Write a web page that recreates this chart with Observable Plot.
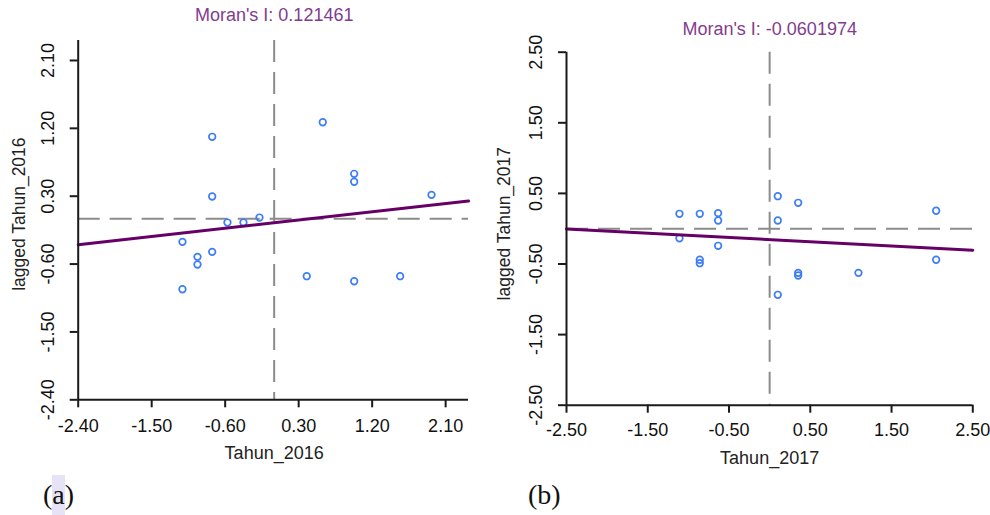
<!DOCTYPE html>
<html>
<head>
<meta charset="utf-8">
<script src="https://cdn.jsdelivr.net/npm/d3@7"></script>
<script src="https://cdn.jsdelivr.net/npm/@observablehq/plot@0.6"></script>
<style>
  html, body { margin: 0; padding: 0; background: #fff; }
  #wrap { position: relative; width: 990px; height: 515px; overflow: hidden; background: #fff; }
  .panel { position: absolute; top: 0; }
  .cap { position: absolute; font-family: "Liberation Serif", "Times New Roman", serif; font-size: 28px; line-height: 28px; color: #111; }
  .hl { background: #e6e3f6; padding: 4px 0 6px 0; }
</style>
</head>
<body>
<div id="wrap"></div>
<script>
// ---- Data ----
const titleA = "Moran's I: 0.121461";
const titleB = "Moran's I: -0.0601974";
const moranA = 0.121461;
const moranB = -0.0601974;
const interceptA = -0.053;
const interceptB = -0.155;

const xLabelA = "Tahun_2016";
const yLabelA = "lagged Tahun_2016";
const xLabelB = "Tahun_2017";
const yLabelB = "lagged Tahun_2017";

const ticksA = [-2.40, -1.50, -0.60, 0.30, 1.20, 2.10];
const ticksB = [-2.50, -1.50, -0.50, 0.50, 1.50, 2.50];
const xDomainA = [-2.4, 2.38];
const yDomainA = [-2.4, 2.365];
const xDomainB = [-2.5, 2.5];
const yDomainB = [-2.5, 2.5];

const xA = [0.595, -0.759, 0.980, 0.980, 1.927, -0.759, -0.180, -0.376, -0.572, -1.123, -0.759, -0.939, -0.939, -1.123, 0.399, 0.980, 1.543];
const yA = [1.281, 1.088, 0.597, 0.491, 0.318, 0.296, 0.017, -0.049, -0.049, -0.305, -0.438, -0.504, -0.606, -0.934, -0.761, -0.828, -0.761];

const xB = [-1.110, -0.860, -0.634, -0.634, -1.110, -0.634, -0.860, -0.860, 0.100, 0.100, 0.351, 2.049, 2.049, 0.351, 0.351, 1.093, 0.100];
const yB = [0.211, 0.211, 0.220, 0.116, -0.135, -0.242, -0.440, -0.489, 0.460, 0.116, 0.367, 0.254, -0.440, -0.625, -0.663, -0.625, -0.936];

// ---- Styles ----
const FONT = "'Liberation Sans', Arial, sans-serif";
const AXIS = "#1a1a1a";
const TITLE_COLOR = "#823c8e";
const LINE_COLOR = "#660066";
const DOT_COLOR = "#3d7ef5";
const DASH_COLOR = "#8c8c8c";
const fmt = d => d.toFixed(2);

function panel(cfg) {
  const pts = cfg.xs.map((x, i) => ({x, y: cfg.ys[i]}));
  const reg = cfg.xDomain.map(x => ({x, y: cfg.intercept + cfg.slope * x}));
  return Plot.plot({
    width: cfg.width,
    height: cfg.height,
    marginLeft: cfg.ml,
    marginRight: cfg.mr,
    marginTop: cfg.mt,
    marginBottom: cfg.mb,
    x: {domain: cfg.xDomain},
    y: {domain: cfg.yDomain},
    style: {fontFamily: FONT, background: "transparent", overflow: "visible"},
    marks: [
      Plot.ruleX([0], {stroke: DASH_COLOR, strokeWidth: 2, strokeDasharray: "22,10"}),
      Plot.ruleY([0], {stroke: DASH_COLOR, strokeWidth: 2, strokeDasharray: "22,10"}),
      Plot.dot(pts, {x: "x", y: "y", r: 3.3, stroke: DOT_COLOR, strokeWidth: 1.7, fill: "none"}),
      Plot.line(reg, {x: "x", y: "y", stroke: LINE_COLOR, strokeWidth: 3}),
      Plot.ruleX([cfg.xDomain[0]], {stroke: AXIS, strokeWidth: 2}),
      Plot.ruleY([cfg.yDomain[0]], {stroke: AXIS, strokeWidth: 2}),
      Plot.axisX({ticks: cfg.ticks, tickSize: 8, tickFormat: () => "", label: null, stroke: AXIS, strokeWidth: 2}),
      Plot.axisY({ticks: cfg.ticks, tickSize: 8, tickFormat: () => "", label: null, stroke: AXIS, strokeWidth: 2}),
      Plot.text(cfg.ticks, {x: d => d, frameAnchor: "bottom", text: fmt, lineAnchor: "bottom", dy: cfg.xTickDy, fontSize: 18, fill: "#111"}),
      Plot.text(cfg.ticks, {y: d => d, frameAnchor: "left", text: fmt, rotate: -90, textAnchor: "middle", lineAnchor: "middle", dx: cfg.yTickDx, fontSize: 18, fill: "#111"}),
      Plot.text([cfg.xLabel], {x: 0, frameAnchor: "bottom", text: d => d, lineAnchor: "bottom", dy: cfg.xLabelDy, fontSize: 18, fill: "#222"}),
      Plot.text([cfg.yLabel], {frameAnchor: "left", text: d => d, rotate: -90, textAnchor: "middle", lineAnchor: "middle", dx: cfg.yLabelDx, dy: cfg.yLabelDy, fontSize: 17.5, fill: "#222"}),
      Plot.text([cfg.title], {x: 0, frameAnchor: "top", text: d => d, lineAnchor: "bottom", dy: cfg.titleDy, fontSize: 18, fill: TITLE_COLOR})
    ]
  });
}

const wrap = document.getElementById("wrap");

const a = panel({
  width: 490, height: 470, ml: 77.7, mr: 22, mt: 40, mb: 70.7,
  xDomain: xDomainA, yDomain: yDomainA, ticks: ticksA,
  xs: xA, ys: yA, slope: moranA, intercept: interceptA,
  xLabel: xLabelA, yLabel: yLabelA, title: titleA,
  xTickDy: 32.4, yTickDx: -30, xLabelDy: 58.7, yLabelDx: -58.7, yLabelDy: -6, titleDy: -19.3
});
a.classList.add("panel");
a.style.left = "0px";
wrap.appendChild(a);

const b = panel({
  width: 500, height: 470, ml: 76, mr: 17.7, mt: 51.7, mb: 65.3,
  xDomain: xDomainB, yDomain: yDomainB, ticks: ticksB,
  xs: xB, ys: yB, slope: moranB, intercept: interceptB,
  xLabel: xLabelB, yLabel: yLabelB, title: titleB,
  xTickDy: 30.3, yTickDx: -30.5, xLabelDy: 58.3, yLabelDx: -61.8, yLabelDy: -5, titleDy: -17.7
});
b.classList.add("panel");
b.style.left = "490px";
wrap.appendChild(b);

const capA = document.createElement("div");
capA.className = "cap";
capA.style.left = "43px";
capA.style.top = "481px";
capA.innerHTML = '(<span class="hl">a</span>)';
wrap.appendChild(capA);

const capB = document.createElement("div");
capB.className = "cap";
capB.style.left = "528px";
capB.style.top = "481px";
capB.textContent = "(b)";
wrap.appendChild(capB);
</script>
</body>
</html>
